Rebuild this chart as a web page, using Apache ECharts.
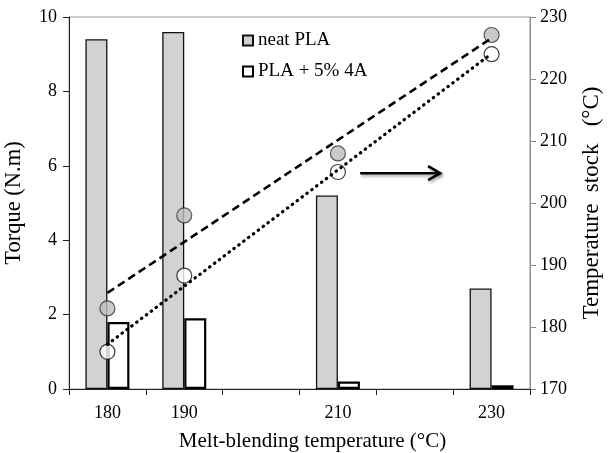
<!DOCTYPE html>
<html>
<head>
<meta charset="utf-8">
<script src="https://cdn.jsdelivr.net/npm/echarts@6/dist/echarts.min.js"></script>
<style>
  html, body { margin: 0; padding: 0; background: #fff; }
  #chart { width: 608px; height: 453px; }
</style>
</head>
<body>
<div id="chart"></div>
<script>
// Melt-blending temperatures (one slot every 10 °C; only some are labelled)
const categories = ['180', '190', '200', '210', '220', '230'];
const labelledTicks = ['180', '190', '210', '230'];

// Torque (N.m), left axis
const torqueNeat = [9.4, 9.6, null, 5.2, null, 2.7];
const torqueAdd = [1.8, 1.9, null, 0.2, null, 0.1];

// Stock temperature (°C), right axis
const stockNeat = [183, 198, null, 208, null, 227.1];
const stockAdd = [176, 188.3, null, 205, null, 224];

// Linear trend lines through the stock temperatures (ends at 180 and 230)
const trendNeat = [185.5, null, null, null, null, 226.6];
const trendAdd = [177.2, null, null, null, null, 224.1];

const FONT = 'Liberation Serif';

const chart = echarts.init(document.getElementById('chart'));

chart.setOption({
  animation: false,
  backgroundColor: '#fff',
  textStyle: { fontFamily: FONT, color: '#000' },
  grid: {
    left: 69, right: 78, top: 17, bottom: 64,
    containLabel: false, outerBoundsMode: 'none',
    show: true, borderColor: '#9a9a9a', borderWidth: 1
  },
  legend: {
    orient: 'vertical',
    left: 237,
    top: 26,
    icon: 'rect',
    itemWidth: 10,
    itemHeight: 10,
    itemGap: 12,
    textStyle: { fontFamily: FONT, fontSize: 19, color: '#000' },
    data: ['neat PLA', 'PLA + 5% 4A']
  },
  xAxis: [
    {
      type: 'category',
      data: categories,
      name: 'Melt-blending temperature (°C)',
      nameLocation: 'middle',
      nameGap: 42,
      nameTextStyle: { fontFamily: FONT, fontSize: 21, color: '#000', padding: [0, 0, 0, 26] },
      axisLine: { lineStyle: { color: '#222', width: 1 } },
      axisTick: { show: true, length: 6, interval: 0, lineStyle: { color: '#222' } },
      axisLabel: {
        interval: 0,
        margin: 15,
        fontFamily: FONT, fontSize: 18, color: '#000',
        formatter: v => (labelledTicks.indexOf(v) >= 0 ? v : '')
      },
      splitLine: { show: false }
    },
    {
      // helper scale spanning the same width, used to place the annotation arrow
      type: 'value', min: 0, max: 6, show: false
    }
  ],
  yAxis: [
    {
      type: 'value',
      min: 0, max: 10, interval: 2,
      name: 'Torque (N.m)',
      nameLocation: 'middle',
      nameGap: 43,
      nameTextStyle: { fontFamily: FONT, fontSize: 22.5, color: '#000' },
      axisLine: { show: true, lineStyle: { color: '#222' } },
      axisTick: { show: true, length: 6, lineStyle: { color: '#222' } },
      axisLabel: { margin: 12, fontFamily: FONT, fontSize: 18, color: '#000' },
      splitLine: { show: false }
    },
    {
      type: 'value',
      min: 170, max: 230, interval: 10,
      position: 'right',
      name: 'Temperature  stock   (°C)',
      nameLocation: 'middle',
      nameGap: 50,
      nameRotate: 90,
      nameTextStyle: { fontFamily: FONT, fontSize: 23, color: '#000' },
      axisLine: { show: true, lineStyle: { color: '#8a8a8a' } },
      axisTick: { show: true, length: 6, lineStyle: { color: '#8a8a8a' } },
      axisLabel: { margin: 10, fontFamily: FONT, fontSize: 18, color: '#000' },
      splitLine: { show: false }
    }
  ],
  series: [
    {
      name: 'neat PLA',
      type: 'bar',
      data: torqueNeat,
      barWidth: 22,
      barGap: '0%',
      itemStyle: { color: '#d1d3d3', borderColor: '#111', borderWidth: 1.3 },
      z: 2
    },
    {
      name: 'PLA + 5% 4A',
      type: 'bar',
      data: torqueAdd,
      barWidth: 22,
      itemStyle: { color: '#fff', borderColor: '#000', borderWidth: 2.2 },
      z: 2
    },
    {
      name: 'stock neat',
      type: 'scatter',
      yAxisIndex: 1,
      data: stockNeat,
      symbolSize: 15,
      itemStyle: { color: '#bdbdbd', borderColor: '#333', borderWidth: 1.2 },
      z: 3
    },
    {
      name: 'stock 4A',
      type: 'scatter',
      yAxisIndex: 1,
      data: stockAdd,
      symbolSize: 15,
      itemStyle: { color: '#fff', borderColor: '#111', borderWidth: 1.2 },
      z: 3
    },
    {
      name: 'trend neat',
      type: 'line',
      yAxisIndex: 1,
      data: trendNeat,
      connectNulls: true,
      showSymbol: false,
      symbol: 'none',
      lineStyle: { color: '#000', width: 2.6, type: [8, 4.5] },
      z: 4
    },
    {
      name: 'trend 4A',
      type: 'line',
      yAxisIndex: 1,
      data: trendAdd,
      connectNulls: true,
      showSymbol: false,
      symbol: 'none',
      lineStyle: { color: '#000', width: 3.2, type: [0.5, 5.6], cap: 'round' },
      z: 4
    },
    {
      // arrow pointing the trend lines to the right-hand axis
      name: 'arrow',
      type: 'custom',
      xAxisIndex: 1,
      yAxisIndex: 1,
      data: [[3.79, 204.8, 4.83]],
      z: 5,
      renderItem: function (params, api) {
        const a = api.coord([api.value(0), api.value(1)]);
        const b = api.coord([api.value(2), api.value(1)]);
        const style = {
          stroke: '#000', lineWidth: 2.6, fill: null,
          shadowBlur: 3, shadowColor: 'rgba(0,0,0,0.35)', shadowOffsetX: 1.5, shadowOffsetY: 2
        };
        return {
          type: 'group',
          children: [
            { type: 'line', shape: { x1: a[0], y1: a[1], x2: b[0], y2: b[1] }, style: style },
            {
              type: 'polyline',
              shape: { points: [[b[0] - 12, b[1] - 7], [b[0], b[1]], [b[0] - 12, b[1] + 7]] },
              style: style
            }
          ]
        };
      }
    }
  ]
});
</script>
</body>
</html>
